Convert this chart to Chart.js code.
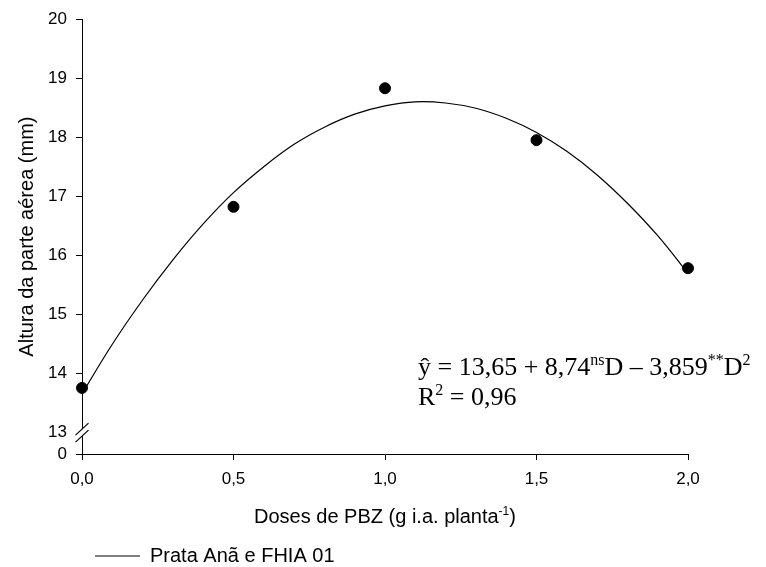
<!DOCTYPE html>
<html>
<head>
<meta charset="utf-8">
<script src="https://cdn.jsdelivr.net/npm/chart.js@4.4.0/dist/chart.umd.min.js"></script>
<style>
    body { margin: 0; background: #fff; }
    #wrap { width: 766px; height: 567px; }
</style>
</head>
<body>
<div id="wrap"><canvas id="chart"></canvas></div>
<script>
// Observed means (points)
const doses = [0, 0.5, 1.0, 1.5, 2.0];
const alturas = [13.75, 16.82, 18.83, 17.95, 15.78];

// Fitted curve, every 0.1 g
const curvaDoses = [0, 0.1, 0.2, 0.3, 0.4, 0.5, 0.6, 0.7, 0.8, 0.9, 1.0,
                    1.1, 1.2, 1.3, 1.4, 1.5, 1.6, 1.7, 1.8, 1.9, 2.0];
const curvaAltura = [13.65, 14.49, 15.24, 15.92, 16.53, 17.06, 17.50, 17.88, 18.17, 18.39, 18.53,
                     18.60, 18.58, 18.49, 18.32, 18.08, 17.76, 17.36, 16.88, 16.33, 15.69];

const xTicks = [0, 0.5, 1.0, 1.5, 2.0];
const yTicks = [13, 14, 15, 16, 17, 18, 19, 20];
const yBreakZero = 12.63; // where the "0" of the broken axis sits

const legendLabel = 'Prata Anã e FHIA 01';
const xTitle = [{ t: 'Doses de PBZ (g i.a. planta' }, { t: '-1', sup: true }, { t: ')' }];
const yTitle = 'Altura da parte aérea (mm)';
const equacao = [
    [{ t: 'ŷ = 13,65 + 8,74' }, { t: 'ns', sup: true }, { t: 'D – 3,859' }, { t: '**', sup: true }, { t: 'D' }, { t: '2', sup: true }],
    [{ t: 'R' }, { t: '2', sup: true }, { t: ' = 0,96' }]
];

const fmt = v => v.toFixed(1).replace('.', ',');

// draw a line of text with superscript pieces
function richText(ctx, parts, x, y, size, family, align) {
    const supSize = Math.round(size * 0.62);
    let total = 0;
    parts.forEach(p => {
        ctx.font = (p.sup ? supSize : size) + 'px ' + family;
        p.w = ctx.measureText(p.t).width;
        total += p.w;
    });
    let cx = align === 'center' ? x - total / 2 : x;
    ctx.textAlign = 'left';
    ctx.textBaseline = 'alphabetic';
    parts.forEach(p => {
        ctx.font = (p.sup ? supSize : size) + 'px ' + family;
        ctx.fillText(p.t, cx, p.sup ? y - size * 0.38 : y);
        cx += p.w;
    });
}

const extras = {
    id: 'extras',
    afterDraw(chart) {
        const { ctx, chartArea, scales } = chart;
        const ys = scales.y;
        ctx.save();

        // axis break on y
        const ax = ys.right;
        const y13 = ys.getPixelForValue(13);
        ctx.fillStyle = '#fff';
        ctx.fillRect(ax - 2, y13 - 3, 4, 7);
        ctx.strokeStyle = '#000';
        ctx.lineWidth = 1.2;
        [y13 - 3, y13 + 4].forEach(c => {
            ctx.beginPath();
            ctx.moveTo(ax - 6.5, c + 6);
            ctx.lineTo(ax + 6.5, c - 6);
            ctx.stroke();
        });

        // x title with superscript
        ctx.fillStyle = '#000';
        richText(ctx, xTitle, (chartArea.left + chartArea.right) / 2, 523, 20, 'Arial, "Liberation Sans", sans-serif', 'center');

        // regression equation
        richText(ctx, equacao[0], 418, 375, 26, '"Times New Roman", "Liberation Serif", serif', 'left');
        richText(ctx, equacao[1], 418, 405, 26, '"Times New Roman", "Liberation Serif", serif', 'left');
        ctx.restore();
    }
};

new Chart(document.getElementById('chart'), {
    data: {
        datasets: [
            {
                type: 'line',
                label: legendLabel,
                data: curvaDoses.map((d, i) => ({ x: d, y: curvaAltura[i] })),
                borderColor: '#000',
                backgroundColor: '#000',
                borderWidth: 1.2,
                pointRadius: 0,
                tension: 0.4,
                clip: false
            },
            {
                type: 'scatter',
                label: 'observado',
                data: doses.map((d, i) => ({ x: d, y: alturas[i] })),
                backgroundColor: '#000',
                borderColor: '#000',
                pointRadius: 5.5,
                clip: false
            }
        ]
    },
    options: {
        responsive: true,
        maintainAspectRatio: false,
        animation: false,
        layout: { padding: { top: 19, right: 78, bottom: 0, left: 0 } },
        plugins: {
            tooltip: { enabled: false },
            legend: {
                position: 'bottom',
                align: 'start',
                fullSize: false,
                maxHeight: 34,
                labels: {
                    filter: item => item.datasetIndex === 0,
                    boxWidth: 45,
                    boxHeight: 0,
                    padding: 13,
                    color: '#000',
                    font: { family: 'Arial, "Liberation Sans", sans-serif', size: 20 }
                }
            }
        },
        scales: {
            x: {
                type: 'linear',
                min: 0,
                max: 2,
                afterBuildTicks: axis => { axis.ticks = xTicks.map(v => ({ value: v })); },
                afterFit: axis => { axis.height = 79; },
                grid: { display: true, drawOnChartArea: false, drawTicks: true, tickLength: 6, color: '#000' },
                border: { display: true, color: '#000', width: 1 },
                ticks: {
                    padding: 9,
                    color: '#000',
                    font: { family: 'Arial, "Liberation Sans", sans-serif', size: 17 },
                    callback: v => fmt(v)
                }
            },
            y: {
                type: 'linear',
                min: yBreakZero,
                max: 20,
                afterBuildTicks: axis => { axis.ticks = [yBreakZero, ...yTicks].map(v => ({ value: v })); },
                afterFit: axis => { axis.width = 82; },
                grid: {
                    display: true, drawOnChartArea: false, drawTicks: true, tickLength: 6,
                    color: c => (c.tick && c.tick.value === 13 ? 'rgba(0,0,0,0)' : '#000')
                },
                border: { display: true, color: '#000', width: 1 },
                ticks: {
                    padding: 9,
                    color: '#000',
                    font: { family: 'Arial, "Liberation Sans", sans-serif', size: 17 },
                    callback: v => (v === yBreakZero ? '0' : v)
                },
                title: {
                    display: true,
                    text: yTitle,
                    color: '#000',
                    padding: { top: 15, bottom: 0 },
                    font: { family: 'Arial, "Liberation Sans", sans-serif', size: 20 }
                }
            }
        }
    },
    plugins: [extras]
});
</script>
</body>
</html>
